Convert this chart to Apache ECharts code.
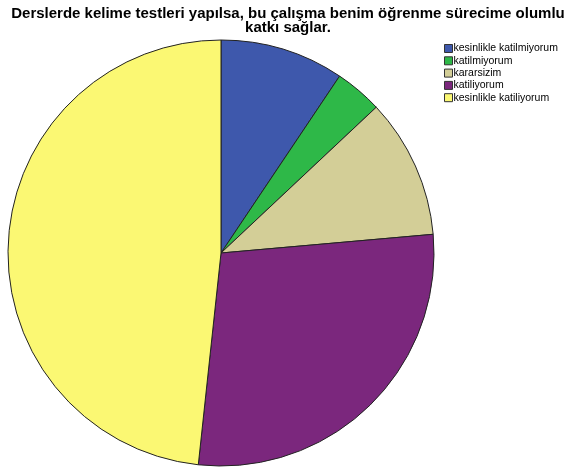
<!DOCTYPE html>
<html>
<head>
<meta charset="utf-8">
<script src="https://cdn.jsdelivr.net/npm/echarts@6/dist/echarts.min.js"></script>
<style>
    html, body { margin: 0; padding: 0; background: #fff; }
    #main { width: 576px; height: 470px; }
</style>
</head>
<body>
<div id="main"></div>
<script>
    var categories = ['kesinlikle katilmiyorum', 'katilmiyorum', 'kararsizim', 'katiliyorum', 'kesinlikle katiliyorum'];
    var values = [9.4, 3.6, 10.6, 28.1, 48.3];
    var colors = ['#3e58ac', '#2eb848', '#d3ce97', '#7b277d', '#fbf873'];

    var myChart = echarts.init(document.getElementById('main'));
    var option = {
        animation: false,
        textStyle: {fontFamily: 'Liberation Sans'},
        title: {
            text: 'Derslerde kelime testleri yapılsa, bu çalışma benim öğrenme sürecime olumlu\nkatkı sağlar.',
            left: 'center',
            top: 6.5,
            padding: 0,
            textStyle: {fontSize: 15, fontWeight: 'bold', color: '#000', lineHeight: 14.5, fontFamily: 'Liberation Sans'}
        },
        legend: {
            orient: 'vertical',
            left: 444,
            top: 43,
            padding: 0,
            icon: 'rect',
            itemWidth: 8,
            itemHeight: 8,
            itemGap: 1.3,
            itemStyle: {borderColor: '#333', borderWidth: 1},
            textStyle: {fontSize: 10.5, color: '#000', padding: [0, 0, 0, -4]},
            data: categories
        },
        series: [{
            type: 'pie',
            center: [221, 253],
            radius: 213,
            startAngle: 90,
            clockwise: true,
            label: {show: false},
            labelLine: {show: false},
            emphasis: {disabled: true},
            itemStyle: {borderColor: '#222', borderWidth: 1},
            data: categories.map(function (name, i) {
                return {name: name, value: values[i], itemStyle: {color: colors[i]}};
            })
        }]
    };
    myChart.setOption(option);
</script>
</body>
</html>
